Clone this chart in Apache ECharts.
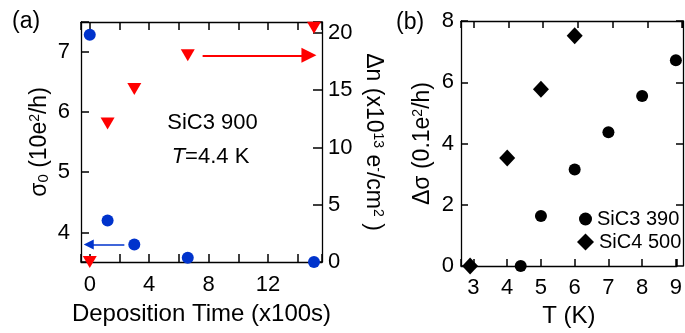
<!DOCTYPE html>
<html>
<head>
<meta charset="utf-8">
<script src="https://cdn.jsdelivr.net/npm/echarts@6/dist/echarts.min.js"></script>
<style>
  html, body { margin: 0; padding: 0; background: #fff; }
  #chart { width: 685px; height: 333px; }
</style>
</head>
<body>
<div id="chart"></div>
<script>
// panel (a): deposition time (x100 s)
var depTime = [0, 1.2, 3.0, 6.6, 15.1];
var sigma0 = [7.28, 4.20, 3.80, 3.58, 3.51];
var deltaN = [0, 12.1, 15.1, 18.05, 20.45];
// arrows [from, to] in data units
var blueArrow = [[2.33, 3.80], [-0.07, 3.80]];
var redArrow = [[7.6, 18.05], [14.76, 18.05]];

// panel (b): delta sigma vs T
var tSiC3 = [4.4, 5, 6, 7, 8, 9];
var dsSiC3 = [0, 1.63, 3.15, 4.37, 5.55, 6.72];
var tSiC4 = [2.9, 4, 5, 6];
var dsSiC4 = [0, 3.53, 5.77, 7.52];

// axis ranges
var timeRange = [-0.59, 15.64];
var sigRange = [3.51, 7.49];
var nRange = [0, 20.96];
var tRange = [2.63, 9.03];
var dsRange = [0, 8];

var FONT = 'Liberation Sans, Arial, sans-serif';
var BLUE = '#0033cc';
var RED = '#ff0000';

function zip(a, b) {
    return a.map(function (v, i) { return [v, b[i]]; });
}
function isMult(v, step) {
    return Math.abs(v / step - Math.round(v / step)) < 1e-6;
}

var chartDom = document.getElementById('chart');
var myChart = echarts.init(chartDom);
var option;

function axLine() {
    return { show: true, onZero: false, lineStyle: { color: '#000', width: 1.3 } };
}
function tickIn(len) {
    return { show: true, inside: true, length: len, lineStyle: { color: '#000', width: 1.5 } };
}
function lbl(step, margin) {
    return {
        color: '#000', fontSize: 22, fontFamily: FONT, margin: margin,
        showMinLabel: true, showMaxLabel: true,
        formatter: function (v) { return isMult(v, step) ? String(Math.round(v)) : ''; }
    };
}
var supStyle = { fontSize: 14, fontFamily: FONT, color: '#000', verticalAlign: 'top' };
var subStyle = { fontSize: 15, fontFamily: FONT, color: '#000', verticalAlign: 'bottom' };
function nameStyle(rich) {
    return { fontSize: 23, fontFamily: FONT, color: '#000', rich: rich };
}

var rectA = { left: 81, top: 22, width: 241, height: 240 };
var rectB = { left: 461, top: 21, width: 222, height: 245 };

option = {
    animation: false,
    grid: [rectA, Object.assign({}, rectA), rectB, Object.assign({}, rectB)],
    xAxis: [{
        type: 'value', gridIndex: 0, position: 'bottom',
        min: timeRange[0], max: timeRange[1], splitNumber: 8,
        name: 'Deposition Time (x100s)', nameLocation: 'middle', nameGap: 40,
        nameTextStyle: { fontSize: 24, fontFamily: FONT, color: '#000' },
        axisLine: axLine(), axisTick: tickIn(8), axisLabel: lbl(4, 12),
        splitLine: { show: false }
    }, {
        type: 'value', gridIndex: 1, position: 'top',
        min: timeRange[0], max: timeRange[1], splitNumber: 8,
        axisLine: axLine(), axisTick: tickIn(8), axisLabel: { show: false },
        splitLine: { show: false }
    }, {
        type: 'value', gridIndex: 2, position: 'bottom',
        min: tRange[0], max: tRange[1], splitNumber: 6,
        name: 'T (K)', nameLocation: 'middle', nameGap: 37,
        nameTextStyle: { fontSize: 24, fontFamily: FONT, color: '#000' },
        axisLine: axLine(), axisTick: tickIn(7), axisLabel: lbl(1, 11),
        splitLine: { show: false }
    }, {
        type: 'value', gridIndex: 3, position: 'top',
        min: tRange[0], max: tRange[1], splitNumber: 6,
        axisLine: axLine(), axisTick: tickIn(7), axisLabel: { show: false },
        splitLine: { show: false }
    }],
    yAxis: [{
        type: 'value', gridIndex: 0, position: 'left',
        min: sigRange[0], max: sigRange[1], splitNumber: 4,
        name: 'σ{sub|0} (10e{sup|2}/h)', nameLocation: 'middle', nameGap: 30,
        nameTextStyle: nameStyle({ sub: subStyle, sup: supStyle }),
        axisLine: axLine(), axisTick: tickIn(8), axisLabel: lbl(1, 11),
        splitLine: { show: false }
    }, {
        type: 'value', gridIndex: 1, position: 'right',
        min: nRange[0], max: nRange[1], splitNumber: 4,
        name: 'Δn (x10{sup|13} e{sup|-}/cm{sup|2} )', nameLocation: 'middle', nameGap: 40,
        nameRotate: -90,
        nameTextStyle: nameStyle({ sup: supStyle }),
        axisLine: axLine(), axisTick: tickIn(9), axisLabel: lbl(5, 6),
        splitLine: { show: false }
    }, {
        type: 'value', gridIndex: 2, position: 'left',
        min: dsRange[0], max: dsRange[1], splitNumber: 4,
        name: 'Δσ (0.1e{sup|2}/h)', nameLocation: 'middle', nameGap: 27,
        nameTextStyle: nameStyle({ sup: supStyle }),
        axisLine: axLine(), axisTick: tickIn(7), axisLabel: lbl(2, 7),
        splitLine: { show: false }
    }, {
        type: 'value', gridIndex: 3, position: 'right',
        min: dsRange[0], max: dsRange[1], splitNumber: 4,
        axisLine: axLine(), axisTick: tickIn(7), axisLabel: { show: false },
        splitLine: { show: false }
    }],
    legend: [{
        data: ['SiC3 390'], orient: 'vertical', left: 579, top: 209,
        itemWidth: 13, itemHeight: 13, itemGap: 0, padding: 0, selectedMode: false,
        textStyle: { fontSize: 20, fontFamily: FONT, color: '#000' }
    }, {
        data: ['SiC4 500'], orient: 'vertical', left: 577, top: 232,
        itemWidth: 17, itemHeight: 17, itemGap: 0, padding: 0, selectedMode: false,
        textStyle: { fontSize: 20, fontFamily: FONT, color: '#000' }
    }],
    graphic: [{
        type: 'text', x: 12, y: 22,
        style: { text: '(a)', font: '23px ' + FONT, fill: '#000', align: 'left', verticalAlign: 'middle' }
    }, {
        type: 'text', x: 396, y: 23,
        style: { text: '(b)', font: '23px ' + FONT, fill: '#000', align: 'left', verticalAlign: 'middle' }
    }, {
        type: 'text', x: 212.5, y: 123,
        style: { text: 'SiC3 900', font: '22px ' + FONT, fill: '#000', align: 'center', verticalAlign: 'middle' }
    }, {
        type: 'text', x: 210.5, y: 157,
        style: {
            text: '{i|T}=4.4 K', font: '22px ' + FONT, fill: '#000',
            align: 'center', verticalAlign: 'middle',
            rich: { i: { fontStyle: 'italic', fontSize: 22, fontFamily: FONT, color: '#000' } }
        }
    }],
    series: [{
        type: 'lines', coordinateSystem: 'cartesian2d', xAxisIndex: 0, yAxisIndex: 0,
        silent: true, z: 3,
        symbol: ['none', 'triangle'], symbolSize: [9, 10],
        lineStyle: { color: BLUE, width: 1.5, type: 'solid', opacity: 1 },
        data: [{ coords: blueArrow }]
    }, {
        type: 'lines', coordinateSystem: 'cartesian2d', xAxisIndex: 1, yAxisIndex: 1,
        silent: true, z: 3,
        symbol: ['none', 'triangle'], symbolSize: [17, 15],
        lineStyle: { color: RED, width: 2, type: 'solid', opacity: 1 },
        data: [{ coords: redArrow }]
    }, {
        name: 'sigma0', type: 'scatter', xAxisIndex: 0, yAxisIndex: 0, clip: false, z: 4,
        symbol: 'circle', symbolSize: 12,
        itemStyle: { color: BLUE, opacity: 1 },
        data: zip(depTime, sigma0)
    }, {
        name: 'deltaN', type: 'scatter', xAxisIndex: 1, yAxisIndex: 1, clip: false, z: 4,
        symbol: 'triangle', symbolRotate: 180, symbolSize: [14, 12],
        itemStyle: { color: RED, opacity: 1 },
        data: zip(depTime, deltaN)
    }, {
        name: 'SiC3 390', type: 'scatter', xAxisIndex: 2, yAxisIndex: 2, clip: false, z: 4,
        symbol: 'circle', symbolSize: 12,
        itemStyle: { color: '#000', opacity: 1 },
        data: zip(tSiC3, dsSiC3)
    }, {
        name: 'SiC4 500', type: 'scatter', xAxisIndex: 2, yAxisIndex: 2, clip: false, z: 4,
        symbol: 'diamond', symbolSize: [16, 17],
        itemStyle: { color: '#000', opacity: 1 },
        data: zip(tSiC4, dsSiC4)
    }]
};

myChart.setOption(option);
</script>
</body>
</html>
